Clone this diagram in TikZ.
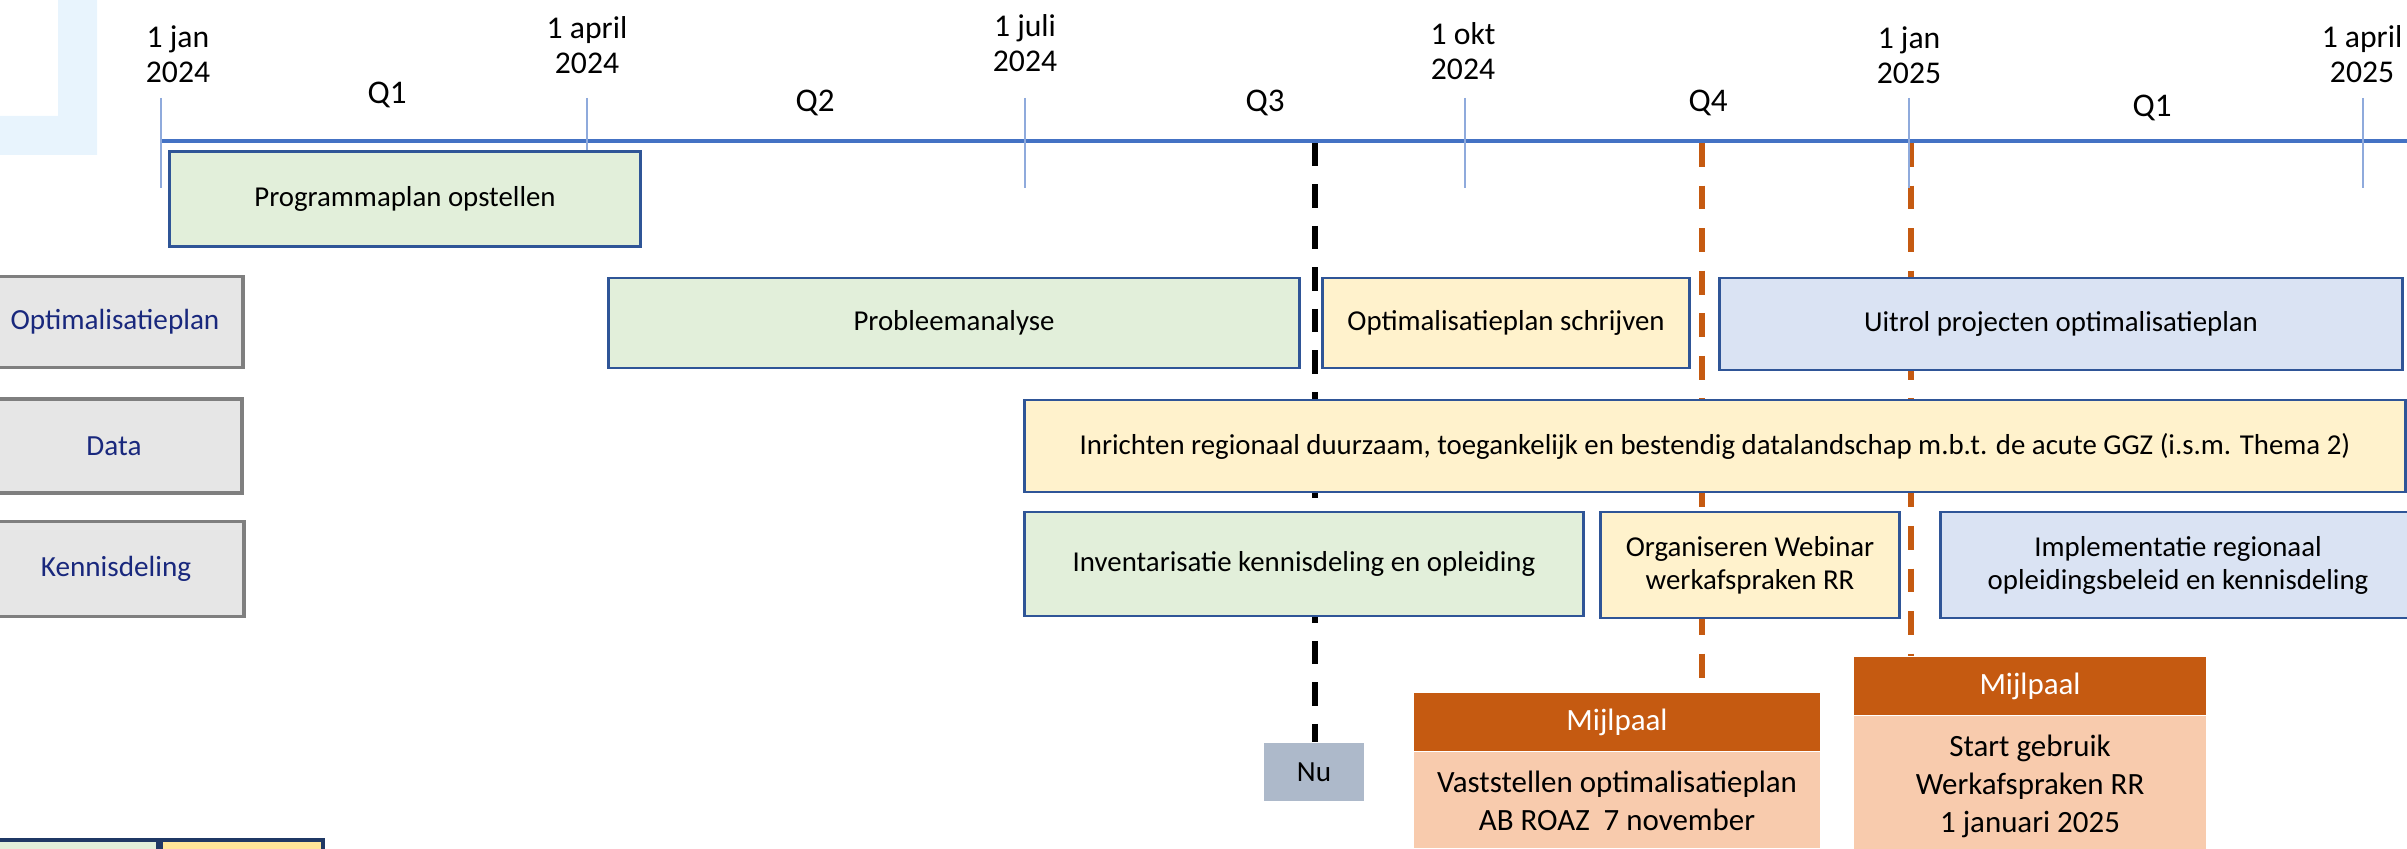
\documentclass[tikz,border=0pt]{standalone}
\usepackage{fontspec}
\setmainfont{Carlito}
\usetikzlibrary{positioning,backgrounds}

\definecolor{lijnblauw}{RGB}{68,114,196}
\definecolor{tickblauw}{RGB}{143,170,220}
\definecolor{randblauw}{RGB}{47,85,151}
\definecolor{groen}{RGB}{226,239,218}
\definecolor{geel}{RGB}{255,242,204}
\definecolor{blauw}{RGB}{218,227,243}
\definecolor{grijs}{RGB}{230,230,230}
\definecolor{grijsrand}{RGB}{127,127,127}
\definecolor{themablauw}{RGB}{25,40,125}
\definecolor{oranje}{RGB}{197,90,17}
\definecolor{zalm}{RGB}{248,203,173}
\definecolor{nugrijs}{RGB}{173,185,202}
\definecolor{lichtblauw}{RGB}{232,244,253}
\definecolor{legendarand}{RGB}{31,56,100}
\definecolor{legendageel}{RGB}{255,230,153}

\begin{document}
\begin{tikzpicture}[x=0.01cm,y=-0.01cm,
    taak/.style={draw=randblauw,line width=0.8pt,inner sep=0pt,align=center,
        font=\fontsize{8.2}{9.4}\selectfont},
    thema/.style={draw=grijsrand,fill=grijs,line width=0.9pt,inner sep=0pt,
        text=themablauw,minimum width=2.56cm,font=\fontsize{8.3}{10}\selectfont},
    datum/.style={align=center,inner sep=0pt,font=\fontsize{9}{10}\selectfont},
    kwartaal/.style={inner sep=0pt,font=\fontsize{9.4}{10}\selectfont},
    kop/.style={fill=oranje,text=white,inner sep=0pt,minimum height=0.58cm,
        font=\fontsize{8.8}{10.8}\selectfont},
    inhoud/.style={fill=zalm,inner sep=0pt,align=center,
        font=\fontsize{8.8}{10.8}\selectfont},
    streep/.style={draw=tickblauw,line width=0.6pt},
    nulijn/.style={line width=1.8pt,dash pattern=on 6.6pt off 5.2pt},
    mijlpaallijn/.style={draw=oranje,line width=1.6pt,dash pattern=on 6.8pt off 5.3pt}]
    \useasboundingbox (0,0) rectangle (2407,849);
    \clip (0,0) rectangle (2407,849);

    %light blue corner
    \fill[lichtblauw] (0,116) -- (58,116) -- (58,0) -- (97,0) -- (97,155) -- (0,155) -- cycle;

    %the time axis with its ticks
    \draw[lijnblauw,line width=1.15pt] (160,141) -- (2410,141);
    \foreach \x in {161,587,1025,1465,1909,2363}
    \draw[streep] (\x,98) -- (\x,188);
    \foreach \x/\y/\datum/\jaar [count=\i] in {178/54/1 jan/2024, 587/45/1 april/2024,
        1025/43/1 juli/2024, 1463/51/1 okt/2024, 1909/55/1 jan/2025, 2362/54/1 april/2025}
    \node[datum] (datum\i) at (\x,\y) {\datum\\\jaar};
    \foreach \x/\y/\q [count=\i] in {387/95/Q1, 815/103/Q2, 1265/103/Q3, 1708/103/Q4, 2152/108/Q1}
    \node[kwartaal] (q\i) at (\x,\y) {\q};
    \coordinate (nu) at (1315,143);
    \coordinate (mp1) at (1702,143);
    \coordinate (mp2) at (1911,143);

    %themes
    \node[thema,minimum height=0.91cm] (optimalisatieplan) at (115,322) {Optimalisatieplan};
    \node[thema,minimum height=0.94cm] (data) at (114,446) {Data};
    \node[thema,minimum height=0.95cm] (kennisdeling) at (116,569) {Kennisdeling};

    %tasks
    \node[taak,fill=groen,minimum width=4.71cm,minimum height=0.95cm] (programmaplan) at (405,199) {Programmaplan opstellen};
    \node[taak,fill=groen,minimum width=6.9cm,minimum height=0.9cm] (probleem) at (954,323) {Probleemanalyse};
    \node[taak,fill=geel,minimum width=3.67cm,minimum height=0.9cm] (schrijven) at (1506,323) {Optimalisatieplan schrijven};
    \node[taak,fill=blauw,minimum width=6.82cm,minimum height=0.92cm] (uitrol) at (2061,324) {Uitrol projecten optimalisatieplan};
    \node[taak,fill=geel,minimum width=13.8cm,minimum height=0.92cm] (inrichten) at (1715,446) {Inrichten regionaal duurzaam, toegankelijk en bestendig datalandschap m.b.t. de acute GGZ (i.s.m. Thema 2)};
    \node[taak,fill=groen,minimum width=5.58cm,minimum height=1.04cm] (inventarisatie) at (1304,564) {Inventarisatie kennisdeling en opleiding};
    \node[taak,fill=geel,minimum width=2.99cm,minimum height=1.06cm] (webinar) at (1750,565) {Organiseren Webinar\\werkafspraken RR};
    \node[taak,fill=blauw,minimum width=4.74cm,minimum height=1.06cm] (implementatie) at (2178,565) {Implementatie regionaal\\opleidingsbeleid en kennisdeling};

    %now and milestones
    \node[fill=nugrijs,minimum width=1cm,minimum height=0.58cm,inner sep=0pt,
        font=\fontsize{8.3}{10}\selectfont] (nubox) at (1314,772) {Nu};
    \node[kop,minimum width=4.06cm] (m1kop) at (1617,722) {Mijlpaal};
    \node[inhoud,minimum width=4.06cm,minimum height=0.96cm,below=0pt of m1kop] (m1tekst)
        {Vaststellen optimalisatieplan\\AB ROAZ\ \ 7 november};
    \node[kop,minimum width=3.52cm] (m2kop) at (2030,686) {Mijlpaal};
    \node[inhoud,minimum width=3.52cm,minimum height=1.4cm,below=0pt of m2kop] (m2tekst)
        {Start gebruik\\Werkafspraken RR\\1 januari 2025};

    %legend (cut off)
    \node[draw=legendarand,line width=1.1pt,fill=groen,minimum width=1.78cm,minimum height=0.6cm] (leg1) at (69,870) {};
    \node[draw=legendarand,line width=1.1pt,fill=legendageel,minimum width=1.62cm,minimum height=0.6cm] (leg2) at (242,870) {};

    \begin{scope}[on background layer]
    \draw[nulijn] (nu) -- (nu |- nubox.north);
    \draw[mijlpaallijn] (mp1) -- (mp1 |- m1kop.north);
    \draw[mijlpaallijn] (mp2) -- (mp2 |- m2kop.north);
    \end{scope}
\end{tikzpicture}
\end{document}
